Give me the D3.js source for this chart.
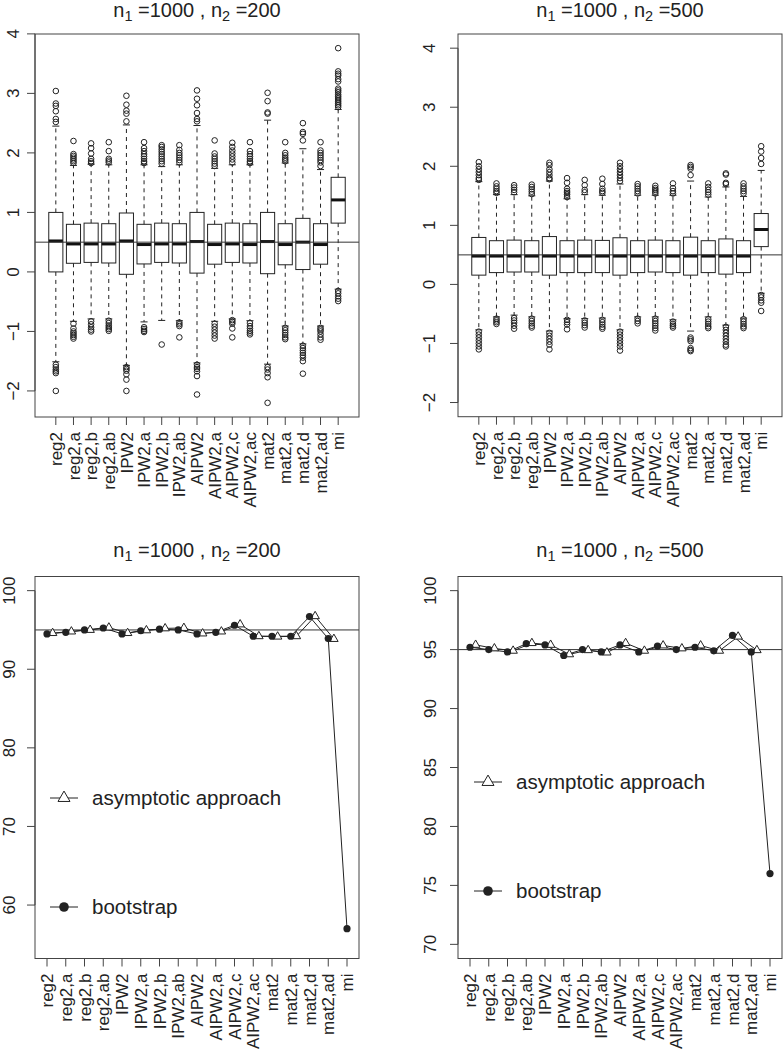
<!DOCTYPE html>
<html>
<head>
<meta charset="utf-8">
<script src="https://cdn.jsdelivr.net/npm/d3@7"></script>
<style>
body{margin:0;background:#fff}
svg{display:block;font-family:"Liberation Sans",Arial,Helvetica,sans-serif}
</style>
</head>
<body>
<svg width="783" height="1050"></svg>
<script>
const cats=["reg2","reg2,a","reg2,b","reg2,ab","IPW2","IPW2,a","IPW2,b","IPW2,ab","AIPW2","AIPW2,a","AIPW2,c","AIPW2,ac","mat2","mat2,a","mat2,d","mat2,ad","mi"];

// n2 = 200 boxplots
const q1_200=[0.00,0.145,0.16,0.15,-0.04,0.134,0.16,0.15,-0.02,0.13,0.16,0.15,-0.03,0.12,0.04,0.13,0.82];
const med_200=[0.52,0.47,0.47,0.47,0.52,0.46,0.47,0.47,0.51,0.46,0.47,0.46,0.51,0.46,0.50,0.46,1.21];
const q3_200=[1.00,0.80,0.82,0.81,0.99,0.80,0.82,0.81,1.00,0.80,0.82,0.81,1.00,0.81,0.90,0.81,1.59];
const wlo_200=[-1.51,-0.83,-0.79,-0.79,-1.57,-0.84,-0.815,-0.82,-1.53,-0.83,-0.79,-0.82,-1.55,-0.91,-1.21,-0.91,-0.29];
const whi_200=[2.45,1.79,1.81,1.80,2.47,1.80,1.77,1.80,2.46,1.74,1.80,1.80,2.55,1.83,2.07,1.72,2.73];
const outHi_200=[
 [3.04,2.83,2.79,2.70,2.57,2.52],
 [2.20,1.98,1.95,1.92,1.89,1.86,1.83],
 [2.16,2.08,1.99,1.90,1.86,1.83],
 [2.18,2.03,1.90,1.87,1.84],
 [2.96,2.81,2.71,2.66,2.53],
 [2.18,2.08,2.03,1.98,1.94,1.90,1.86,1.83],
 [2.13,2.10,2.06,2.02,1.98,1.94,1.90,1.86,1.82],
 [2.13,2.05,2.00,1.96,1.92,1.88,1.84],
 [3.05,2.91,2.80,2.67,2.57,2.53],
 [2.21,1.99,1.94,1.90,1.86,1.82,1.78],
 [2.17,2.10,2.04,1.99,1.94,1.89,1.84],
 [2.18,2.03,1.98,1.94,1.90,1.86,1.83],
 [3.01,2.87,2.68,2.66],
 [2.18,2.00,1.96,1.92,1.89,1.86],
 [2.50,2.35,2.32,2.21],
 [2.18,2.04,2.00,1.96,1.92,1.88,1.84,1.78],
 [3.76,3.37,3.33,3.30,3.24,3.20,3.08,3.05,3.02,2.98,2.95,2.92,2.89,2.86,2.83,2.80,2.77]];
const outLo_200=[
 [-1.56,-1.60,-1.64,-1.67,-1.70,-2.00],
 [-0.87,-0.95,-1.00,-1.03,-1.06,-1.09,-1.12],
 [-0.83,-0.88,-0.93,-0.97,-1.00],
 [-0.82,-0.86,-0.90,-0.93,-0.96,-0.99],
 [-1.60,-1.63,-1.66,-1.72,-1.81,-2.00],
 [-0.93,-0.96,-0.99,-1.01],
 [-1.22],
 [-0.85,-0.88,-0.91,-1.10],
 [-1.56,-1.60,-1.63,-1.67,-1.75,-2.06],
 [-0.87,-0.92,-0.97,-1.02,-1.07,-1.12],
 [-0.81,-0.84,-0.87,-0.95,-1.10],
 [-0.86,-0.91,-0.95,-0.99,-1.02,-1.05],
 [-1.60,-1.64,-1.70,-1.77,-2.20],
 [-0.94,-0.98,-1.02,-1.06,-1.10,-1.13],
 [-1.24,-1.28,-1.32,-1.36,-1.40,-1.44,-1.50,-1.71],
 [-0.94,-0.97,-1.00,-1.05,-1.10,-1.14],
 [-0.32,-0.36,-0.41,-0.45,-0.49]];

// n2 = 500 boxplots
const q1_500=[0.157,0.20,0.21,0.21,0.157,0.20,0.20,0.20,0.157,0.20,0.21,0.20,0.157,0.20,0.174,0.20,0.64];
const med_500=[0.48,0.48,0.48,0.48,0.48,0.48,0.48,0.48,0.48,0.48,0.48,0.48,0.48,0.48,0.48,0.48,0.93];
const q3_500=[0.795,0.74,0.75,0.74,0.81,0.74,0.75,0.745,0.79,0.74,0.75,0.74,0.80,0.74,0.77,0.74,1.20];
const wlo_500=[-0.77,-0.55,-0.52,-0.55,-0.79,-0.58,-0.58,-0.57,-0.77,-0.55,-0.55,-0.60,-0.79,-0.55,-0.69,-0.57,-0.15];
const whi_500=[1.74,1.52,1.52,1.50,1.75,1.45,1.52,1.51,1.70,1.51,1.51,1.51,1.75,1.48,1.65,1.49,1.93];
const outHi_500=[
 [2.07,2.00,1.95,1.90,1.85,1.80,1.77],
 [1.71,1.66,1.62,1.58,1.55],
 [1.68,1.64,1.60,1.56],
 [1.69,1.65,1.61,1.57,1.53],
 [2.06,2.02,1.95,1.90,1.85,1.80,1.78],
 [1.80,1.72,1.62,1.58,1.55,1.52,1.48],
 [1.77,1.68,1.60,1.56],
 [1.79,1.70,1.62,1.58,1.55],
 [2.06,2.00,1.95,1.90,1.85,1.80,1.75],
 [1.70,1.66,1.62,1.58,1.54],
 [1.67,1.63,1.60,1.57,1.54],
 [1.71,1.63,1.58,1.54],
 [2.02,1.99,1.96,1.85],
 [1.71,1.65,1.60,1.56,1.52],
 [1.88,1.86,1.72,1.70],
 [1.71,1.66,1.62,1.58,1.54],
 [2.34,2.25,2.14,2.04]];
const outLo_500=[
 [-0.80,-0.85,-0.90,-0.95,-1.00,-1.05,-1.10],
 [-0.58,-0.61,-0.64,-0.67],
 [-0.57,-0.61,-0.65,-0.70,-0.75],
 [-0.58,-0.62,-0.66,-0.70,-0.73],
 [-0.82,-0.87,-0.92,-0.97,-1.02,-1.10],
 [-0.60,-0.64,-0.68,-0.76],
 [-0.61,-0.65,-0.69,-0.73],
 [-0.60,-0.64,-0.68,-0.72,-0.75],
 [-0.80,-0.85,-0.90,-0.95,-1.00,-1.05,-1.12],
 [-0.58,-0.62,-0.66],
 [-0.58,-0.62,-0.66,-0.70,-0.74,-0.78],
 [-0.63,-0.67,-0.70,-0.73],
 [-0.90,-0.93,-0.96,-1.08,-1.11,-1.13],
 [-0.59,-0.63,-0.67,-0.71,-0.74],
 [-0.72,-0.77,-0.82,-0.87,-0.92,-0.97,-1.02,-1.05],
 [-0.59,-0.63,-0.67,-0.71,-0.74],
 [-0.18,-0.22,-0.27,-0.31,-0.45]];

// coverage (%)
const boot200=[94.5,94.7,95.0,95.25,94.5,94.9,95.1,95.0,94.5,94.7,95.6,94.2,94.2,94.2,96.7,93.9,57.0];
const asym200=[94.6,94.8,95.0,95.3,94.6,94.95,95.2,95.25,94.55,94.8,95.7,94.2,94.15,94.2,96.75,93.85,null];
const boot500=[95.2,95.0,94.8,95.5,95.4,94.5,95.0,94.8,95.4,94.8,95.3,95.0,95.2,94.9,96.2,94.8,76.0];
const asym500=[95.4,95.1,94.9,95.55,95.4,94.6,94.95,94.75,95.55,94.9,95.35,95.1,95.35,94.9,96.1,94.95,null];

const ticksBox=[-2,-1,0,1,2,3,4];
const ticksCov200=[60,70,80,90,100];
const ticksCov500=[70,75,80,85,90,95,100];
const legendLabels=["asymptotic approach","bootstrap"];

const svg=d3.select("svg");
const ink="#222";
const minus=v=>String(v).replace("-","\u2212");

function title(x,y,n2){
  const t=svg.append("text").attr("x",x).attr("y",y).attr("text-anchor","middle")
    .attr("font-size",20).attr("fill",ink);
  t.append("tspan").text("n");
  t.append("tspan").attr("font-size",14.5).attr("dy",4).text("1");
  t.append("tspan").attr("dy",-4).text("\u00a0=1000 , n");
  t.append("tspan").attr("font-size",14.5).attr("dy",4).text("2");
  t.append("tspan").attr("dy",-4).text("\u00a0="+n2);
}

function frame(x,y,labX,yticks){
  const [x0,x1]=x.range(), [y0,y1]=y.range();
  const g=svg.append("g");
  g.append("rect").attr("x",x0).attr("y",y1).attr("width",x1-x0).attr("height",y0-y1)
    .attr("fill","none").attr("stroke","#444").attr("stroke-width",1);
  // y axis
  g.append("line").attr("x1",x0).attr("x2",x0).attr("y1",y(yticks[0])).attr("y2",y(yticks[yticks.length-1])).attr("stroke","#444");
  g.selectAll(".yt").data(yticks).join("line").attr("x1",x0-8).attr("x2",x0)
    .attr("y1",d=>y(d)).attr("y2",d=>y(d)).attr("stroke","#444");
  g.selectAll(".yl").data(yticks).join("text")
    .attr("transform",d=>`translate(${labX},${y(d)}) rotate(-90)`)
    .attr("text-anchor","middle").attr("font-size",17).attr("fill",ink).text(d=>minus(d));
  // x axis
  g.selectAll(".xt").data(cats).join("line").attr("x1",(d,i)=>x(i+1)).attr("x2",(d,i)=>x(i+1))
    .attr("y1",y0).attr("y2",y0+8).attr("stroke","#444");
  g.selectAll(".xl").data(cats).join("text")
    .attr("transform",(d,i)=>`translate(${x(i+1)},${y0+15}) rotate(-90)`)
    .attr("text-anchor","end").attr("dy","0.36em").attr("font-size",17).attr("fill",ink).text(d=>d);
  return g;
}

function boxPanel(xr,yDom,yr,labX,q1,med,q3,wlo,whi,outHi,outLo,n2){
  const x=d3.scaleLinear().domain([0.5-0.68,17.5+0.68]).range(xr);
  const y=d3.scaleLinear().domain(yDom).range(yr);
  const bw=x(1.4)-x(1);
  const data=cats.map((c,i)=>({i:i+1,q1:q1[i],med:med[i],q3:q3[i],lo:wlo[i],hi:whi[i],
    out:outHi[i].concat(outLo[i])}));
  const g=svg.append("g");
  const b=g.selectAll("g").data(data).join("g");
  b.append("line").attr("x1",d=>x(d.i)).attr("x2",d=>x(d.i)).attr("y1",d=>y(d.q3)).attr("y2",d=>y(d.hi))
    .attr("stroke",ink).attr("stroke-dasharray","4,4");
  b.append("line").attr("x1",d=>x(d.i)).attr("x2",d=>x(d.i)).attr("y1",d=>y(d.q1)).attr("y2",d=>y(d.lo))
    .attr("stroke",ink).attr("stroke-dasharray","4,4");
  b.selectAll(".cap").data(d=>[d.hi,d.lo].map(v=>({i:d.i,v}))).join("line")
    .attr("x1",d=>x(d.i)-bw/2).attr("x2",d=>x(d.i)+bw/2).attr("y1",d=>y(d.v)).attr("y2",d=>y(d.v)).attr("stroke",ink);
  b.append("rect").attr("x",d=>x(d.i)-bw).attr("width",2*bw).attr("y",d=>y(d.q3)).attr("height",d=>y(d.q1)-y(d.q3))
    .attr("fill","none").attr("stroke",ink);
  b.append("line").attr("x1",d=>x(d.i)-bw).attr("x2",d=>x(d.i)+bw).attr("y1",d=>y(d.med)).attr("y2",d=>y(d.med))
    .attr("stroke","#111").attr("stroke-width",3);
  b.selectAll("circle").data(d=>d.out.map(v=>({i:d.i,v}))).join("circle")
    .attr("cx",d=>x(d.i)).attr("cy",d=>y(d.v)).attr("r",2.8).attr("fill","none").attr("stroke",ink).attr("stroke-width",1);
  g.append("line").attr("x1",xr[0]).attr("x2",xr[1]).attr("y1",y(0.5)).attr("y2",y(0.5)).attr("stroke","#333");
  frame(x,y,labX,ticksBox);
  title((xr[0]+xr[1])/2,17,n2);
}

function triPath(cx,cy,s){
  const h=s*0.866;
  return `M${cx},${cy-h*2/3}L${cx+s/2},${cy+h/3}L${cx-s/2},${cy+h/3}Z`;
}

function covPanel(xr,yDom,yr,labX,yticks,boot,asym,n2,legX,legY){
  const x=d3.scaleLinear().domain([1-0.64,17+0.64]).range(xr);
  const y=d3.scaleLinear().domain(yDom).range(yr);
  const g=svg.append("g");
  g.append("line").attr("x1",xr[0]).attr("x2",xr[1]).attr("y1",y(95)).attr("y2",y(95)).attr("stroke","#333");
  const bpts=boot.map((v,i)=>[i+1,v]);
  const apts=asym.map((v,i)=>[i+1.3,v]).filter(d=>d[1]!=null);
  const line=d3.line().x(d=>x(d[0])).y(d=>y(d[1]));
  g.append("path").attr("d",line(apts)).attr("fill","none").attr("stroke",ink);
  g.append("path").attr("d",line(bpts)).attr("fill","none").attr("stroke",ink);
  g.selectAll(".tri").data(apts).join("path").attr("d",d=>triPath(x(d[0]),y(d[1]),8.5))
    .attr("fill","#fff").attr("stroke",ink);
  g.selectAll("circle").data(bpts).join("circle").attr("cx",d=>x(d[0])).attr("cy",d=>y(d[1]))
    .attr("r",3.6).attr("fill",ink);
  // legend
  const lg=svg.append("g");
  legendLabels.forEach((lab,k)=>{
    const yy=legY[k];
    lg.append("line").attr("x1",legX).attr("x2",legX+28).attr("y1",yy).attr("y2",yy).attr("stroke",ink);
    if(k===0) lg.append("path").attr("d",triPath(legX+14,yy,12)).attr("fill","#fff").attr("stroke",ink);
    else lg.append("circle").attr("cx",legX+14).attr("cy",yy).attr("r",4.8).attr("fill",ink);
    lg.append("text").attr("x",legX+42).attr("y",yy).attr("dy","0.35em").attr("font-size",20.5).attr("fill",ink).text(lab);
  });
  frame(x,y,labX,yticks);
  title((xr[0]+xr[1])/2,557,n2);
}

boxPanel([35,359],[-2.438,3.998],[417,34],18.5,q1_200,med_200,q3_200,wlo_200,whi_200,outHi_200,outLo_200,200);
boxPanel([458,782],[-2.24,4.24],[416.7,34],434.5,q1_500,med_500,q3_500,wlo_500,whi_500,outHi_500,outLo_500,500);
covPanel([35,359],[53.2,101.8],[958.5,576.5],15,ticksCov200,boot200,asym200,200,50,[798,907]);
covPanel([458,782],[68.8,101.2],[958.5,576.5],436,ticksCov500,boot500,asym500,500,474,[782,891]);
</script>
</body>
</html>
